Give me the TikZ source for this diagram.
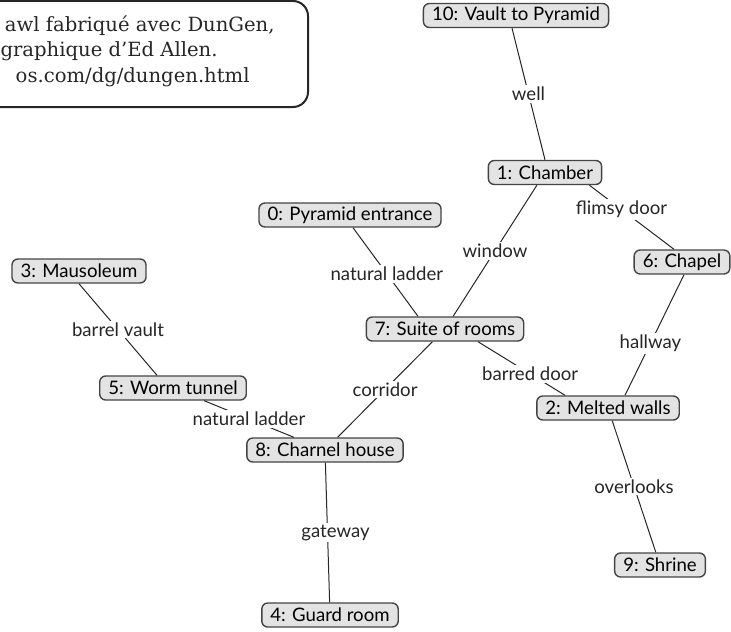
\documentclass[tikz,border=0pt]{standalone}
\usepackage{fontspec}
\setmainfont{Lato}
\newfontfamily\capfont{DejaVu Serif}
\usepackage{tikz}
\definecolor{roomfill}{HTML}{E3E3E3}
\definecolor{roomline}{HTML}{444444}

\begin{document}
\begin{tikzpicture}[x=0.5pt,y=-0.5pt]
\tikzstyle{room}=[draw=roomline,fill=roomfill,rounded corners=3pt,line width=0.7pt,
  inner xsep=4.3pt,inner ysep=0pt,minimum height=12pt,font=\fontsize{9.3}{10}\selectfont]
\tikzstyle{passage}=[fill=white,inner sep=1pt,font=\fontsize{9.3}{10}\selectfont,text=black!85]
\tikzstyle{capline}=[inner sep=0pt,font=\capfont\fontsize{9.8}{12}\selectfont,text=black!85]
\useasboundingbox (0,0) rectangle (731,631);
% caption, cut at the left edge
\draw [black!85,line width=1pt,rounded corners=7.5pt] (-200,1) rectangle (308,107);
\node [capline,anchor=base east] (cap1) at (275,32) {awl fabriqué avec DunGen,};
\node [capline,anchor=base east] (cap2) at (218,57) {graphique d’Ed Allen.};
\node [capline,anchor=base east] (cap3) at (250,83) {os.com/dg/dungen.html};
% rooms
\node [room] (r10) at (516,15.5) {10: Vault to Pyramid};
\node [room] (r1) at (545,172.5) {1: Chamber};
\node [room] (r0) at (350,215) {0: Pyramid entrance};
\node [room] (r7) at (445,329) {7: Suite of rooms};
\node [room] (r3) at (79,271) {3: Mausoleum};
\node [room] (r5) at (173,388) {5: Worm tunnel};
\node [room] (r8) at (325,450) {8: Charnel house};
\node [room] (r4) at (330,615) {4: Guard room};
\node [room] (r6) at (682,262) {6: Chapel};
\node [room] (r2) at (608,408) {2: Melted walls};
\node [room] (r9) at (660,565) {9: Shrine};
% passages
\begin{scope}[black!85,line width=0.5pt]
\draw ([xshift=-2pt]r10.south) -- node [passage] {well} (r1.north);
\draw ([xshift=-6.5pt]r1.south east) -- node [passage,pos=0.38] {flimsy door} ([xshift=-4pt]r6.north);
\draw (r1) -- node [passage] {window} (r7);
\draw ([xshift=1.5pt]r0.south) -- node [passage,pos=0.52] {natural ladder} ([xshift=-13.5pt]r7.north);
\draw ([xshift=16.5pt]r7.south) -- node [passage,pos=0.6] {barred door} ([xshift=-21.5pt]r2.north);
\draw ([xshift=1pt]r6.south) -- node [passage,pos=0.57] {hallway} ([xshift=8.5pt]r2.north);
\draw (r2) -- node [passage] {overlooks} (r9);
\draw (r3.south) -- node [passage] {barrel vault} ([xshift=-8pt]r5.north);
\draw (r5) -- node [passage] {natural ladder} (r8);
\draw (r7) -- node [passage] {corridor} (r8);
\draw (r8) -- node [passage,xshift=4pt] {gateway} (r4);
\end{scope}
\end{tikzpicture}
\end{document}
